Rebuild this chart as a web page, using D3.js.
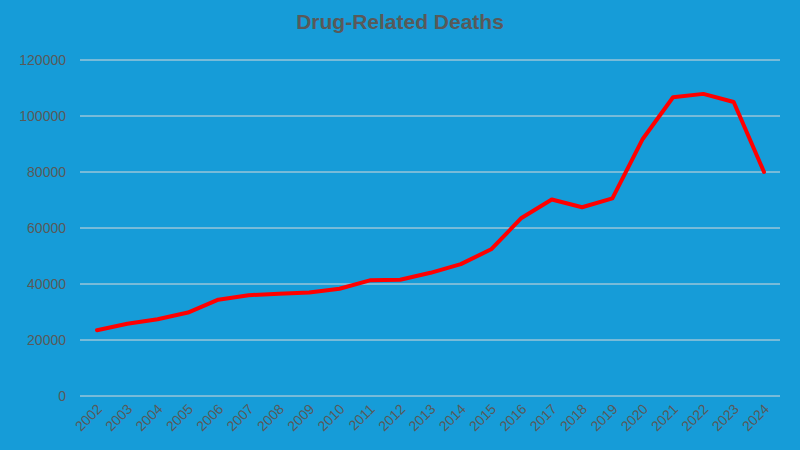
<!DOCTYPE html>
<html><head><meta charset="utf-8">
<script src="https://cdn.jsdelivr.net/npm/d3@7"></script>
<style>body{margin:0;background:#169cd8}</style>
</head><body>
<svg id="chart" width="800" height="450"></svg>
<script>
const years = ["2002","2003","2004","2005","2006","2007","2008","2009","2010","2011","2012","2013","2014","2015","2016","2017","2018","2019","2020","2021","2022","2023","2024"]
const deaths = [23500,25800,27400,29800,34400,36000,36500,37000,38300,41300,41500,44000,47100,52400,63600,70200,67400,70600,91800,106700,107900,105000,80000]
const yTicks = [0,20000,40000,60000,80000,100000,120000]

const svg = d3.select("#chart")
svg.append("rect").attr("width",800).attr("height",450).attr("fill","#169cd8")

const x = d3.scalePoint().domain(years).range([97,764])
const y = d3.scaleLinear().domain([0,120000]).range([396,60])

// gridlines
svg.append("g").selectAll("line").data(yTicks).enter().append("line")
	.attr("x1",80).attr("x2",780)
	.attr("y1",d => y(d)).attr("y2",d => y(d))
	.attr("stroke","#d9d9d9").attr("stroke-width",1)

svg.append("g").selectAll("text").data(yTicks).enter().append("text")
	.attr("x",66).attr("y",d => y(d)+5).attr("text-anchor","end")
	.attr("font-family","Liberation Sans, Arial").attr("font-size",14).attr("fill","#595959")
	.text(d => d)

svg.append("g").selectAll("text").data(years).enter().append("text")
	.attr("transform",d => `translate(${x(d)+6},${y(0)+14}) rotate(-45)`)
	.attr("text-anchor","end")
	.attr("font-family","Liberation Sans, Arial").attr("font-size",14).attr("fill","#595959")
	.text(d => d)

const line = d3.line().x((d,i) => x(years[i])).y(d => y(d))
svg.append("path").datum(deaths).attr("d",line)
	.attr("fill","none").attr("stroke","#ff0000").attr("stroke-width",4)
	.attr("stroke-linejoin","round").attr("stroke-linecap","round")

svg.append("text").attr("x",400).attr("y",29).attr("text-anchor","middle")
	.attr("font-family","Liberation Sans, Arial").attr("font-weight","bold")
	.attr("font-size",21).attr("fill","#595959").text("Drug-Related Deaths")
</script>
</body></html>
